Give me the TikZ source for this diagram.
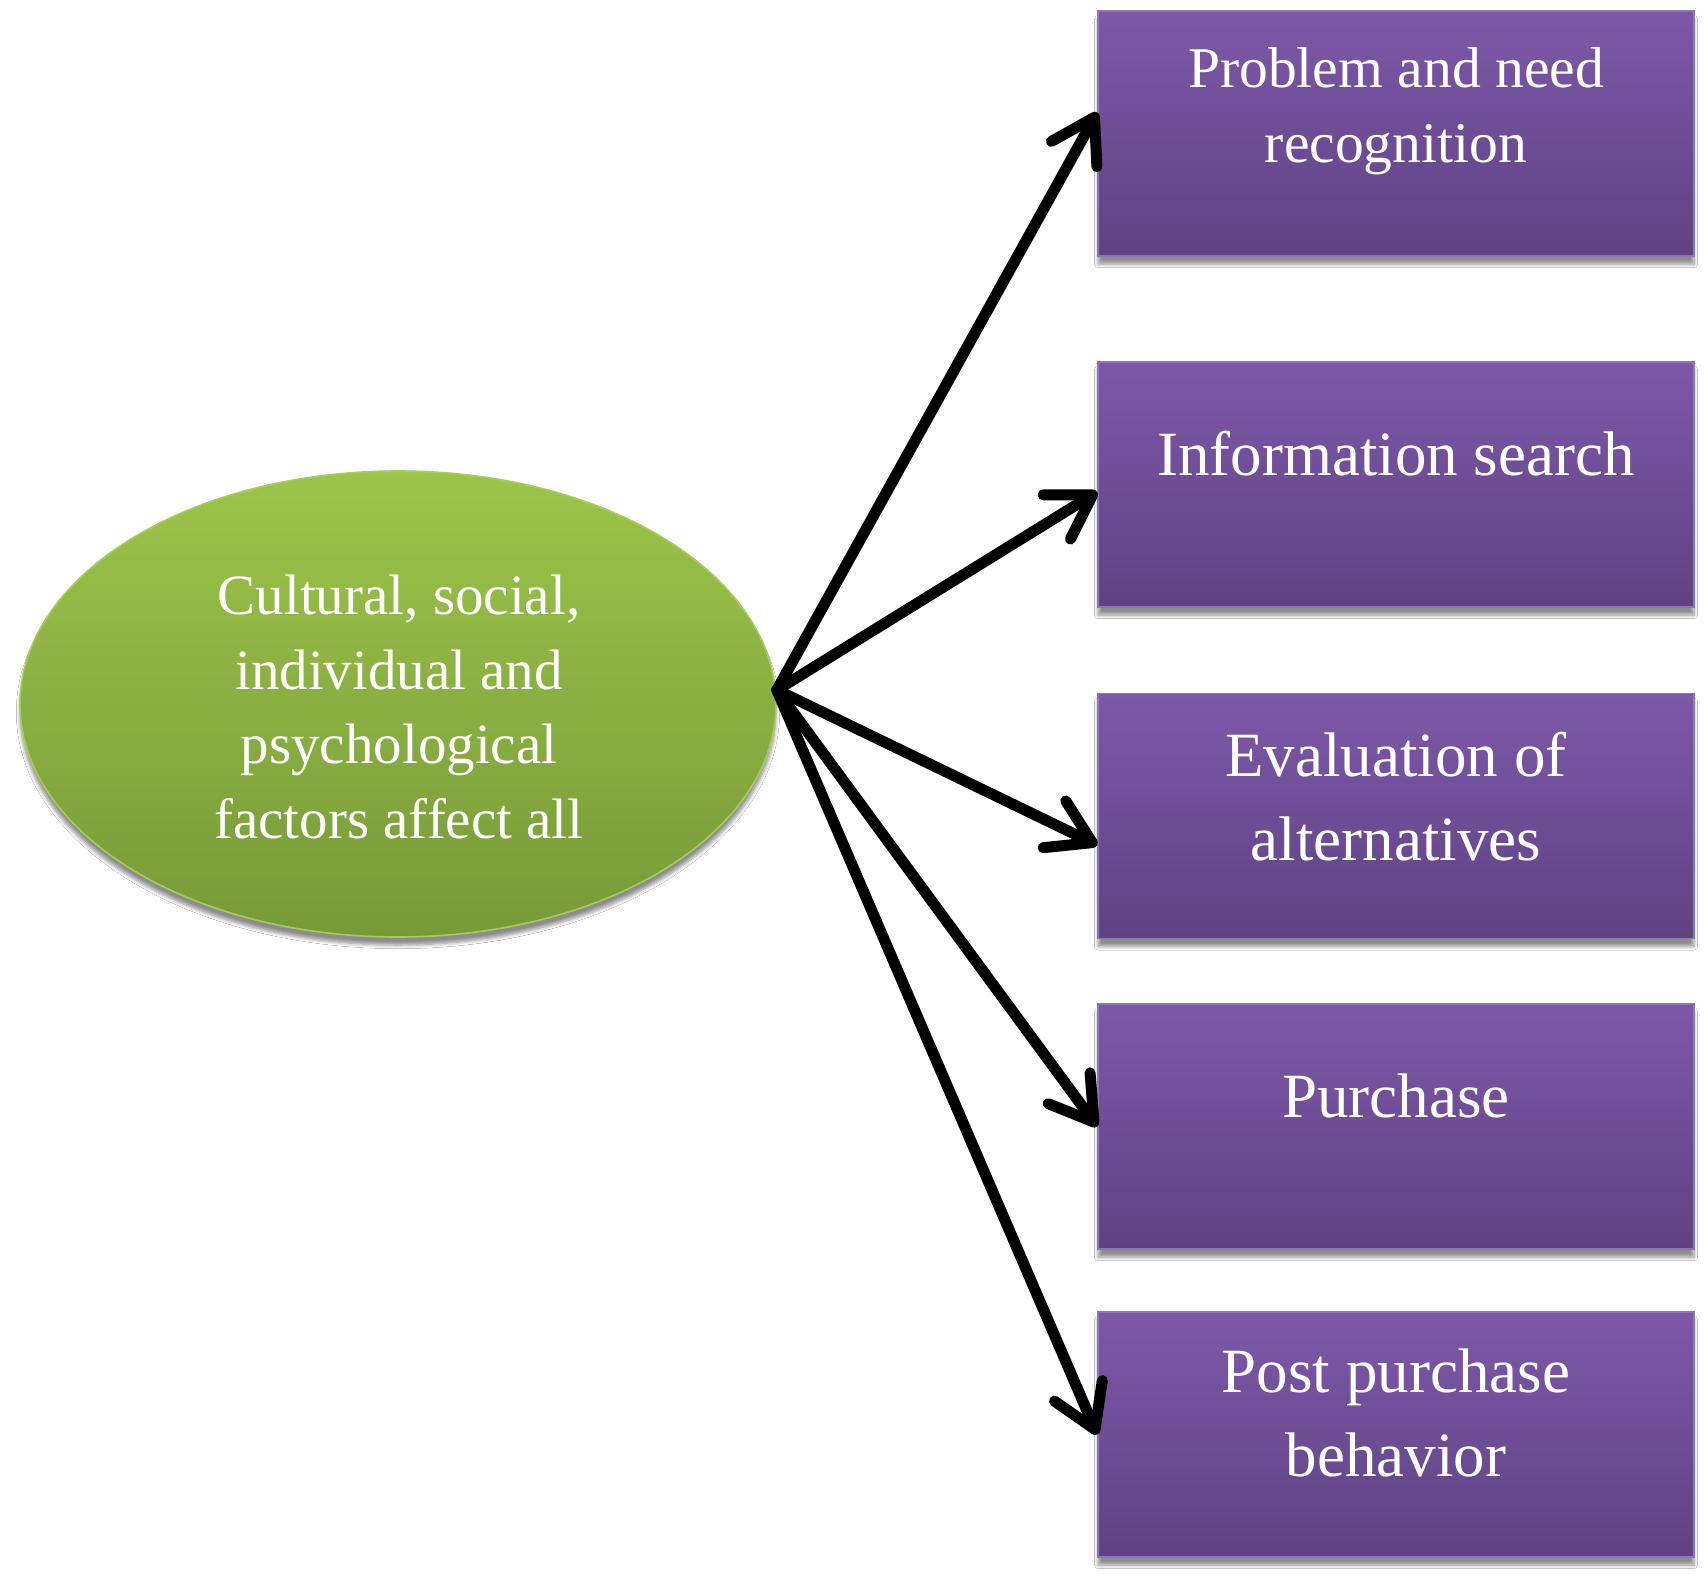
\documentclass[tikz,border=0pt]{standalone}
\usepackage{fontspec}
\setmainfont{Liberation Serif}
\usetikzlibrary{arrows.meta,shapes.geometric,shadows.blur,calc}
\definecolor{purpTop}{HTML}{7E58A8}
\definecolor{purpBot}{HTML}{5E4283}
\definecolor{purpEdge}{HTML}{9074B8}
\definecolor{grTop}{HTML}{9DC44B}
\definecolor{grBot}{HTML}{779A38}
\definecolor{grEdge}{HTML}{A6CC5A}
\begin{document}
\begin{tikzpicture}[x=0.5pt,y=-0.5pt,
  stagebox/.style={rectangle, minimum width=298pt, minimum height=122.5pt, inner sep=0pt,
    top color=purpTop, bottom color=purpBot, draw=purpEdge, line width=0.8pt,
    blur shadow={shadow xshift=0pt, shadow yshift=-4pt, shadow blur steps=6, shadow opacity=45}},
  factorell/.style={ellipse, minimum width=378pt, minimum height=233pt, inner sep=0pt,
    top color=grTop, bottom color=grBot, draw=grEdge, line width=0.8pt,
    blur shadow={shadow xshift=0pt, shadow yshift=-4pt, shadow blur steps=6, shadow opacity=45}},
  stagetext/.style={text=white, align=center, anchor=base, inner sep=0pt,
    font=\fontsize{31.5}{42}\selectfont},
  arr/.style={line width=5.5pt, line cap=round, line join=round,
    -{Straight Barb[length=21pt,width=26pt,line cap=round,line join=round]}}
]
\useasboundingbox (0,0) rectangle (1708,1578);
\fill[white] (0,0) rectangle (1708,1578);

% ellipse
\node[factorell] (e) at (398,704) {};
\node[text=white, align=center, anchor=base, inner sep=0pt,
  font=\fontsize{28.5}{37.25}\selectfont] (te) at (399,838)
  {Cultural, social,\\individual and\\psychological\\factors affect all};

% boxes
\node[stagebox] (b1) at (1396,133.5) {};
\node[stagebox] (b2) at (1396,484.5) {};
\node[stagebox] (b3) at (1396,816) {};
\node[stagebox] (b4) at (1396,1126.5) {};
\node[stagebox] (b5) at (1396,1434.5) {};

\node[stagetext, font=\fontsize{28.8}{37.5}\selectfont] (t1) at (1396,163) {Problem and need\\recognition};
\node[stagetext] (t2) at (1396,475) {Information search};
\node[stagetext] (t3) at (1396,860) {Evaluation of\\alternatives};
\node[stagetext] (t4) at (1396,1117) {Purchase};
\node[stagetext] (t5) at (1396,1476) {Post purchase\\behavior};

% connectors
\coordinate (hub) at ([yshift=7pt]e.east);
\draw[arr] (hub) -- ([yshift=10.5pt]b1.west);
\draw[arr] (hub) -- ([yshift=-3.75pt]b2.west);
\draw[arr] (hub) -- ([yshift=-14.5pt]b3.west);
\draw[arr] (hub) -- (b4.west);
\draw[arr] (hub) -- (b5.west);
\end{tikzpicture}
\end{document}
